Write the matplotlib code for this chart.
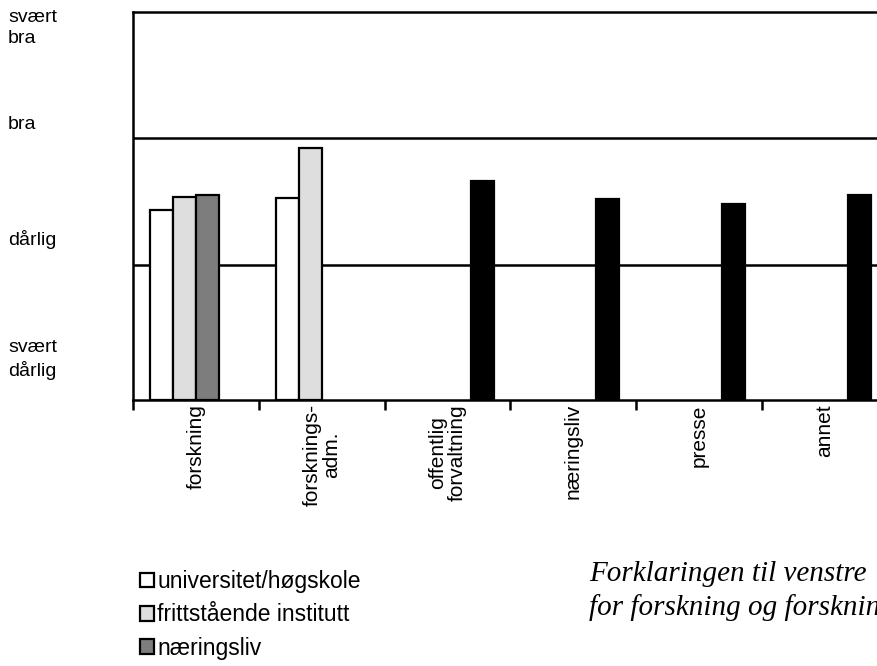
import numpy as np
import matplotlib
matplotlib.use('Agg')
from matplotlib import pyplot as plt
import matplotlib.transforms as mtransforms

plt.rcParams['font.family'] = ['Liberation Sans', 'DejaVu Sans']

categories = ['forskning', 'forsknings-\nadm.', 'offentlig\nforvaltning',
              'næringsliv', 'presse', 'annet']
level_labels = ['svært\ndårlig', 'dårlig', 'bra', 'svært\nbra']
level_label_pos = [1.25, 2.2, 3.11, 3.87]

series_names = ['universitet/høgskole', 'frittstående institutt', 'næringsliv', 'alle']
univ = [2.43, 2.53, np.nan, np.nan, np.nan, np.nan]
institutt = [2.54, 2.92, np.nan, np.nan, np.nan, np.nan]
naering = [2.55, np.nan, np.nan, np.nan, np.nan, np.nan]
alle = [np.nan, np.nan, 2.66, 2.52, 2.48, 2.55]

colors = ['white', '#dedede', '#7d7d7d', 'black']

fig = plt.figure(figsize=(8.78, 6.66), dpi=100)
ax = fig.add_axes([133 / 878, 1 - 400 / 666, 755 / 878, 388 / 666])

x = np.arange(len(categories))
w = 0.183
offsets = [-1.5 * w, -0.5 * w, 0.5 * w, 1.5 * w]
bars = []
for vals, off, col, name in zip([univ, institutt, naering, alle], offsets, colors, series_names):
    b = ax.bar(x + off, np.array(vals) - 0.93, w, bottom=0.93, color=col,
               edgecolor='black', linewidth=1.6, label=name, zorder=3)
    bars.append(b)

for yv in [2, 3]:
    ax.axhline(yv, color='black', lw=1.8, zorder=1)

ax.set_xlim(-0.5, 5.5)
ax.set_ylim(0.93, 4)
ax.spines['right'].set_visible(False)
for s in ['left', 'bottom', 'top']:
    ax.spines[s].set_linewidth(1.8)
ax.set_yticks([])
ax.set_xticks(x)
ax.set_xticklabels(categories, rotation=90, fontsize=15, linespacing=1.0)
ax.tick_params(axis='x', which='major', length=0, pad=3)
ax.set_xticks(np.arange(-0.5, 6, 1), minor=True)
ax.tick_params(axis='x', which='minor', length=7, width=1.8, direction='out')

trans = mtransforms.blended_transform_factory(fig.transFigure, ax.transData)
for lab, yv in zip(level_labels, level_label_pos):
    fig.text(8 / 878, yv, lab, transform=trans, fontsize=14, ha='left', va='center',
             linespacing=1.3)

leg = fig.legend(handles=bars[:3], labels=series_names[:3], loc='upper left',
                 bbox_to_anchor=(140 / 878, 1 - 570 / 666), frameon=False, fontsize=16.5,
                 handlelength=0.6, handleheight=0.6, handletextpad=0.15,
                 labelspacing=0.45, borderaxespad=0, borderpad=0)

# the note runs past the right edge in the original too
fig.text(589 / 878, 1 - 591 / 666,
         'Forklaringen til venstre\nfor forskning og forskningsadministrasjon',
         fontsize=21, family='Liberation Serif', style='italic', ha='left', va='center',
         linespacing=1.3)

fig.savefig('out.png', dpi=100)
